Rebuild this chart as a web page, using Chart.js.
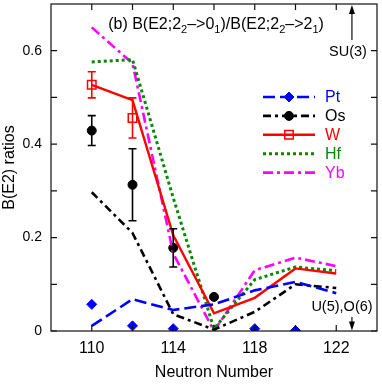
<!DOCTYPE html>
<html>
<head>
<meta charset="utf-8">
<script src="https://cdn.jsdelivr.net/npm/chart.js@4.4.1/dist/chart.umd.min.js"></script>
<style>
  html, body { margin: 0; padding: 0; background: #fff; }
</style>
</head>
<body>
<canvas id="chart" width="382" height="386"></canvas>
<script>
const neutrons = [110, 112, 114, 116, 118, 120, 122];

// calculated ratios, one value per neutron number
const ptCalc = [0.011, 0.068, 0.045, 0.057, 0.087, 0.105, 0.081];
const osCalc = [0.297, 0.210, 0.036, 0.003, 0.041, 0.100, 0.092];
const wCalc  = [0.527, 0.494, 0.205, 0.038, 0.071, 0.134, 0.123];
const hfCalc = [0.576, 0.581, 0.285, 0.005, 0.110, 0.137, 0.129];
const ybCalc = [0.650, 0.573, 0.166, 0.000, 0.130, 0.157, 0.139];

// experimental points
const ptExpN = [110, 112, 114, 118, 120];
const ptExp  = [0.057, 0.011, 0.005, 0.005, 0.001];
const osExpN = [110, 112, 114, 116];
const osExp  = [0.429, 0.313, 0.178, 0.073];
const osErr  = [0.032, 0.077, 0.041, 0.004];
const wExpN  = [110, 112];
const wExp   = [0.527, 0.456];
const wErr   = [0.028, 0.043];

const xLabels = [110, 114, 118, 122];
const yLabels = [0, 0.2, 0.4, 0.6];

const FONT = '"Liberation Sans", Arial, Helvetica, sans-serif';
Chart.defaults.font.family = FONT;
Chart.defaults.color = '#000';

let pts = (xs, ys) => xs.map((x, i) => ({x: x, y: ys[i]}));

let lineSet = (label, ys, color, dash, width) => ({
  label: label,
  data: pts(neutrons, ys),
  showLine: true,
  borderColor: color,
  borderWidth: width,
  borderDash: dash,
  pointRadius: 0,
  fill: false,
  isCalc: true
});

let expSet = (label, xs, ys, errs, color, style, radius, filled) => ({
  label: label,
  data: pts(xs, ys),
  err: errs,
  showLine: false,
  pointStyle: style,
  pointRadius: radius,
  pointBorderWidth: filled ? 1 : 1.5,
  pointBackgroundColor: filled ? color : 'rgba(0,0,0,0)',
  pointBorderColor: color,
  borderColor: color
});

let datasets = [
  lineSet('Pt', ptCalc, '#0000ff', [12, 5], 2.6),
  lineSet('Os', osCalc, '#000000', [8, 4, 3, 4], 2.6),
  lineSet('W', wCalc, '#ff0000', [], 2.4),
  lineSet('Hf', hfCalc, '#008a00', [3, 3], 3),
  lineSet('Yb', ybCalc, '#ff00ff', [10, 4, 3, 4], 2.6),
  expSet('Pt exp', ptExpN, ptExp, null, '#0000ff', 'rectRot', 5, true),
  expSet('Os exp', osExpN, osExp, osErr, '#000000', 'circle', 4.5, true),
  expSet('W exp', wExpN, wExp, wErr, '#ff0000', 'rect', 6, false)
];

// legend markers come from the experimental sets
let legendMarker = {Pt: 5, Os: 6, W: 7};

let errorBars = {
  id: 'errorBars',
  afterDatasetsDraw(chart) {
    let ctx = chart.ctx, y = chart.scales.y;
    chart.data.datasets.forEach((ds, i) => {
      if (!ds.err) return;
      let meta = chart.getDatasetMeta(i);
      ctx.save();
      ctx.strokeStyle = ds.borderColor;
      ctx.lineWidth = 1.6;
      meta.data.forEach((pt, j) => {
        let e = ds.err[j], v = ds.data[j].y;
        let top = y.getPixelForValue(v + e), bot = y.getPixelForValue(v - e);
        ctx.beginPath();
        ctx.moveTo(pt.x, top); ctx.lineTo(pt.x, bot);
        ctx.moveTo(pt.x - 4, top); ctx.lineTo(pt.x + 4, top);
        ctx.moveTo(pt.x - 4, bot); ctx.lineTo(pt.x + 4, bot);
        ctx.stroke();
      });
      ctx.restore();
    });
  }
};

let frame = {
  id: 'frame',
  afterDraw(chart) {
    let ctx = chart.ctx, a = chart.chartArea, x = chart.scales.x, y = chart.scales.y;
    ctx.save();
    ctx.strokeStyle = '#111';
    ctx.lineWidth = 1.2;
    ctx.strokeRect(a.left, a.top, a.right - a.left, a.bottom - a.top);
    ctx.beginPath();
    x.ticks.forEach(t => {
      let px = x.getPixelForValue(t.value);
      ctx.moveTo(px, a.bottom); ctx.lineTo(px, a.bottom - 6);
      ctx.moveTo(px, a.top); ctx.lineTo(px, a.top + 6);
    });
    y.ticks.forEach(t => {
      let py = y.getPixelForValue(t.value);
      ctx.moveTo(a.left, py); ctx.lineTo(a.left + 6, py);
      ctx.moveTo(a.right, py); ctx.lineTo(a.right - 6, py);
    });
    ctx.stroke();

    // arrows towards the SU(3) and U(5),O(6) limits
    let arrow = (xv, y0, y1) => {
      let px = x.getPixelForValue(xv), p0 = y.getPixelForValue(y0), p1 = y.getPixelForValue(y1);
      let dir = p1 < p0 ? 1 : -1;
      ctx.beginPath();
      ctx.lineWidth = 1.2;
      ctx.moveTo(px, p0); ctx.lineTo(px, p1 + dir * 6);
      ctx.stroke();
      ctx.beginPath();
      ctx.fillStyle = '#000';
      ctx.moveTo(px, p1);
      ctx.lineTo(px - 3, p1 + dir * 9);
      ctx.lineTo(px + 3, p1 + dir * 9);
      ctx.closePath();
      ctx.fill();
    };
    arrow(122.77, 0.623, 0.698);
    arrow(122.77, 0.03, 0.001);

    ctx.fillStyle = '#000';
    ctx.font = '14.5px ' + FONT;
    ctx.textAlign = 'center';
    ctx.textBaseline = 'middle';
    ctx.fillText('SU(3)', 348, 52);
    ctx.fillText('U(5),O(6)', 342, 307);

    // title with subscripts
    let parts = [['(b) B(E2;2', 0], ['2', 1], ['\u2013>0', 0], ['1', 1],
                 [')/B(E2;2', 0], ['2', 1], ['\u2013>2', 0], ['1', 1], [')', 0]];
    let big = '16px ' + FONT, small = '11px ' + FONT;
    ctx.textAlign = 'left';
    ctx.textBaseline = 'alphabetic';
    let total = 0;
    parts.forEach(p => { ctx.font = p[1] ? small : big; total += ctx.measureText(p[0]).width; });
    let cx = 216 - total / 2;
    parts.forEach(p => {
      ctx.font = p[1] ? small : big;
      ctx.fillText(p[0], cx, p[1] ? 33 : 29);
      cx += ctx.measureText(p[0]).width;
    });

    // legend
    let ds = chart.data.datasets;
    ds.filter(d => d.isCalc).forEach((d, i) => {
      let ly = 97 + i * 18.9;
      ctx.save();
      ctx.strokeStyle = d.borderColor;
      ctx.lineWidth = d.borderWidth;
      ctx.setLineDash(d.borderDash);
      ctx.beginPath();
      ctx.moveTo(263, ly); ctx.lineTo(315, ly);
      ctx.stroke();
      ctx.restore();
      let m = legendMarker[d.label];
      if (m !== undefined) {
        let e = ds[m];
        ctx.save();
        ctx.fillStyle = e.pointBackgroundColor;
        ctx.strokeStyle = e.pointBorderColor;
        ctx.lineWidth = e.pointBorderWidth;
        Chart.helpers.drawPoint(ctx, {pointStyle: e.pointStyle, radius: e.pointRadius, borderWidth: e.pointBorderWidth}, 289, ly);
        ctx.restore();
      }
      ctx.fillStyle = d.borderColor;
      ctx.font = '16px ' + FONT;
      ctx.textBaseline = 'middle';
      ctx.fillText(d.label, 325, ly + 1);
    });
    ctx.restore();
  }
};

new Chart(document.getElementById('chart'), {
  type: 'scatter',
  data: {datasets: datasets},
  options: {
    responsive: false,
    animation: false,
    layout: {autoPadding: false, padding: {top: 4, right: 5, left: 0, bottom: 0}},
    plugins: {legend: {display: false}, tooltip: {enabled: false}},
    scales: {
      x: {
        type: 'linear', min: 108, max: 124,
        grid: {display: false, drawTicks: false},
        border: {display: false},
        ticks: {
          stepSize: 2, padding: 8, font: {size: 16},
          callback: v => xLabels.includes(v) ? String(v) : ''
        },
        afterBuildTicks: s => { s.ticks = s.ticks.filter(t => t.value > 108.5 && t.value < 123.5); },
        title: {display: true, text: 'Neutron Number', font: {size: 16}, padding: {top: 0, bottom: 4}},
        afterFit: s => { s.height = 55; s.paddingLeft = 0; s.paddingRight = 0; }
      },
      y: {
        type: 'linear', min: 0, max: 0.7,
        grid: {display: false, drawTicks: false},
        border: {display: false},
        ticks: {
          stepSize: 0.1, padding: 9, font: {size: 14},
          callback: v => {
            let r = Math.round(v * 10) / 10;
            return yLabels.includes(r) ? (r === 0 ? '0' : r.toFixed(1)) : '';
          }
        },
        afterBuildTicks: s => { s.ticks = s.ticks.filter(t => t.value < 0.65); },
        title: {display: true, text: 'B(E2) ratios', font: {size: 16}, padding: {top: 0, bottom: 0}},
        afterFit: s => { s.width = 51; s.paddingTop = 0; s.paddingBottom = 0; }
      }
    }
  },
  plugins: [errorBars, frame]
});
</script>
</body>
</html>
